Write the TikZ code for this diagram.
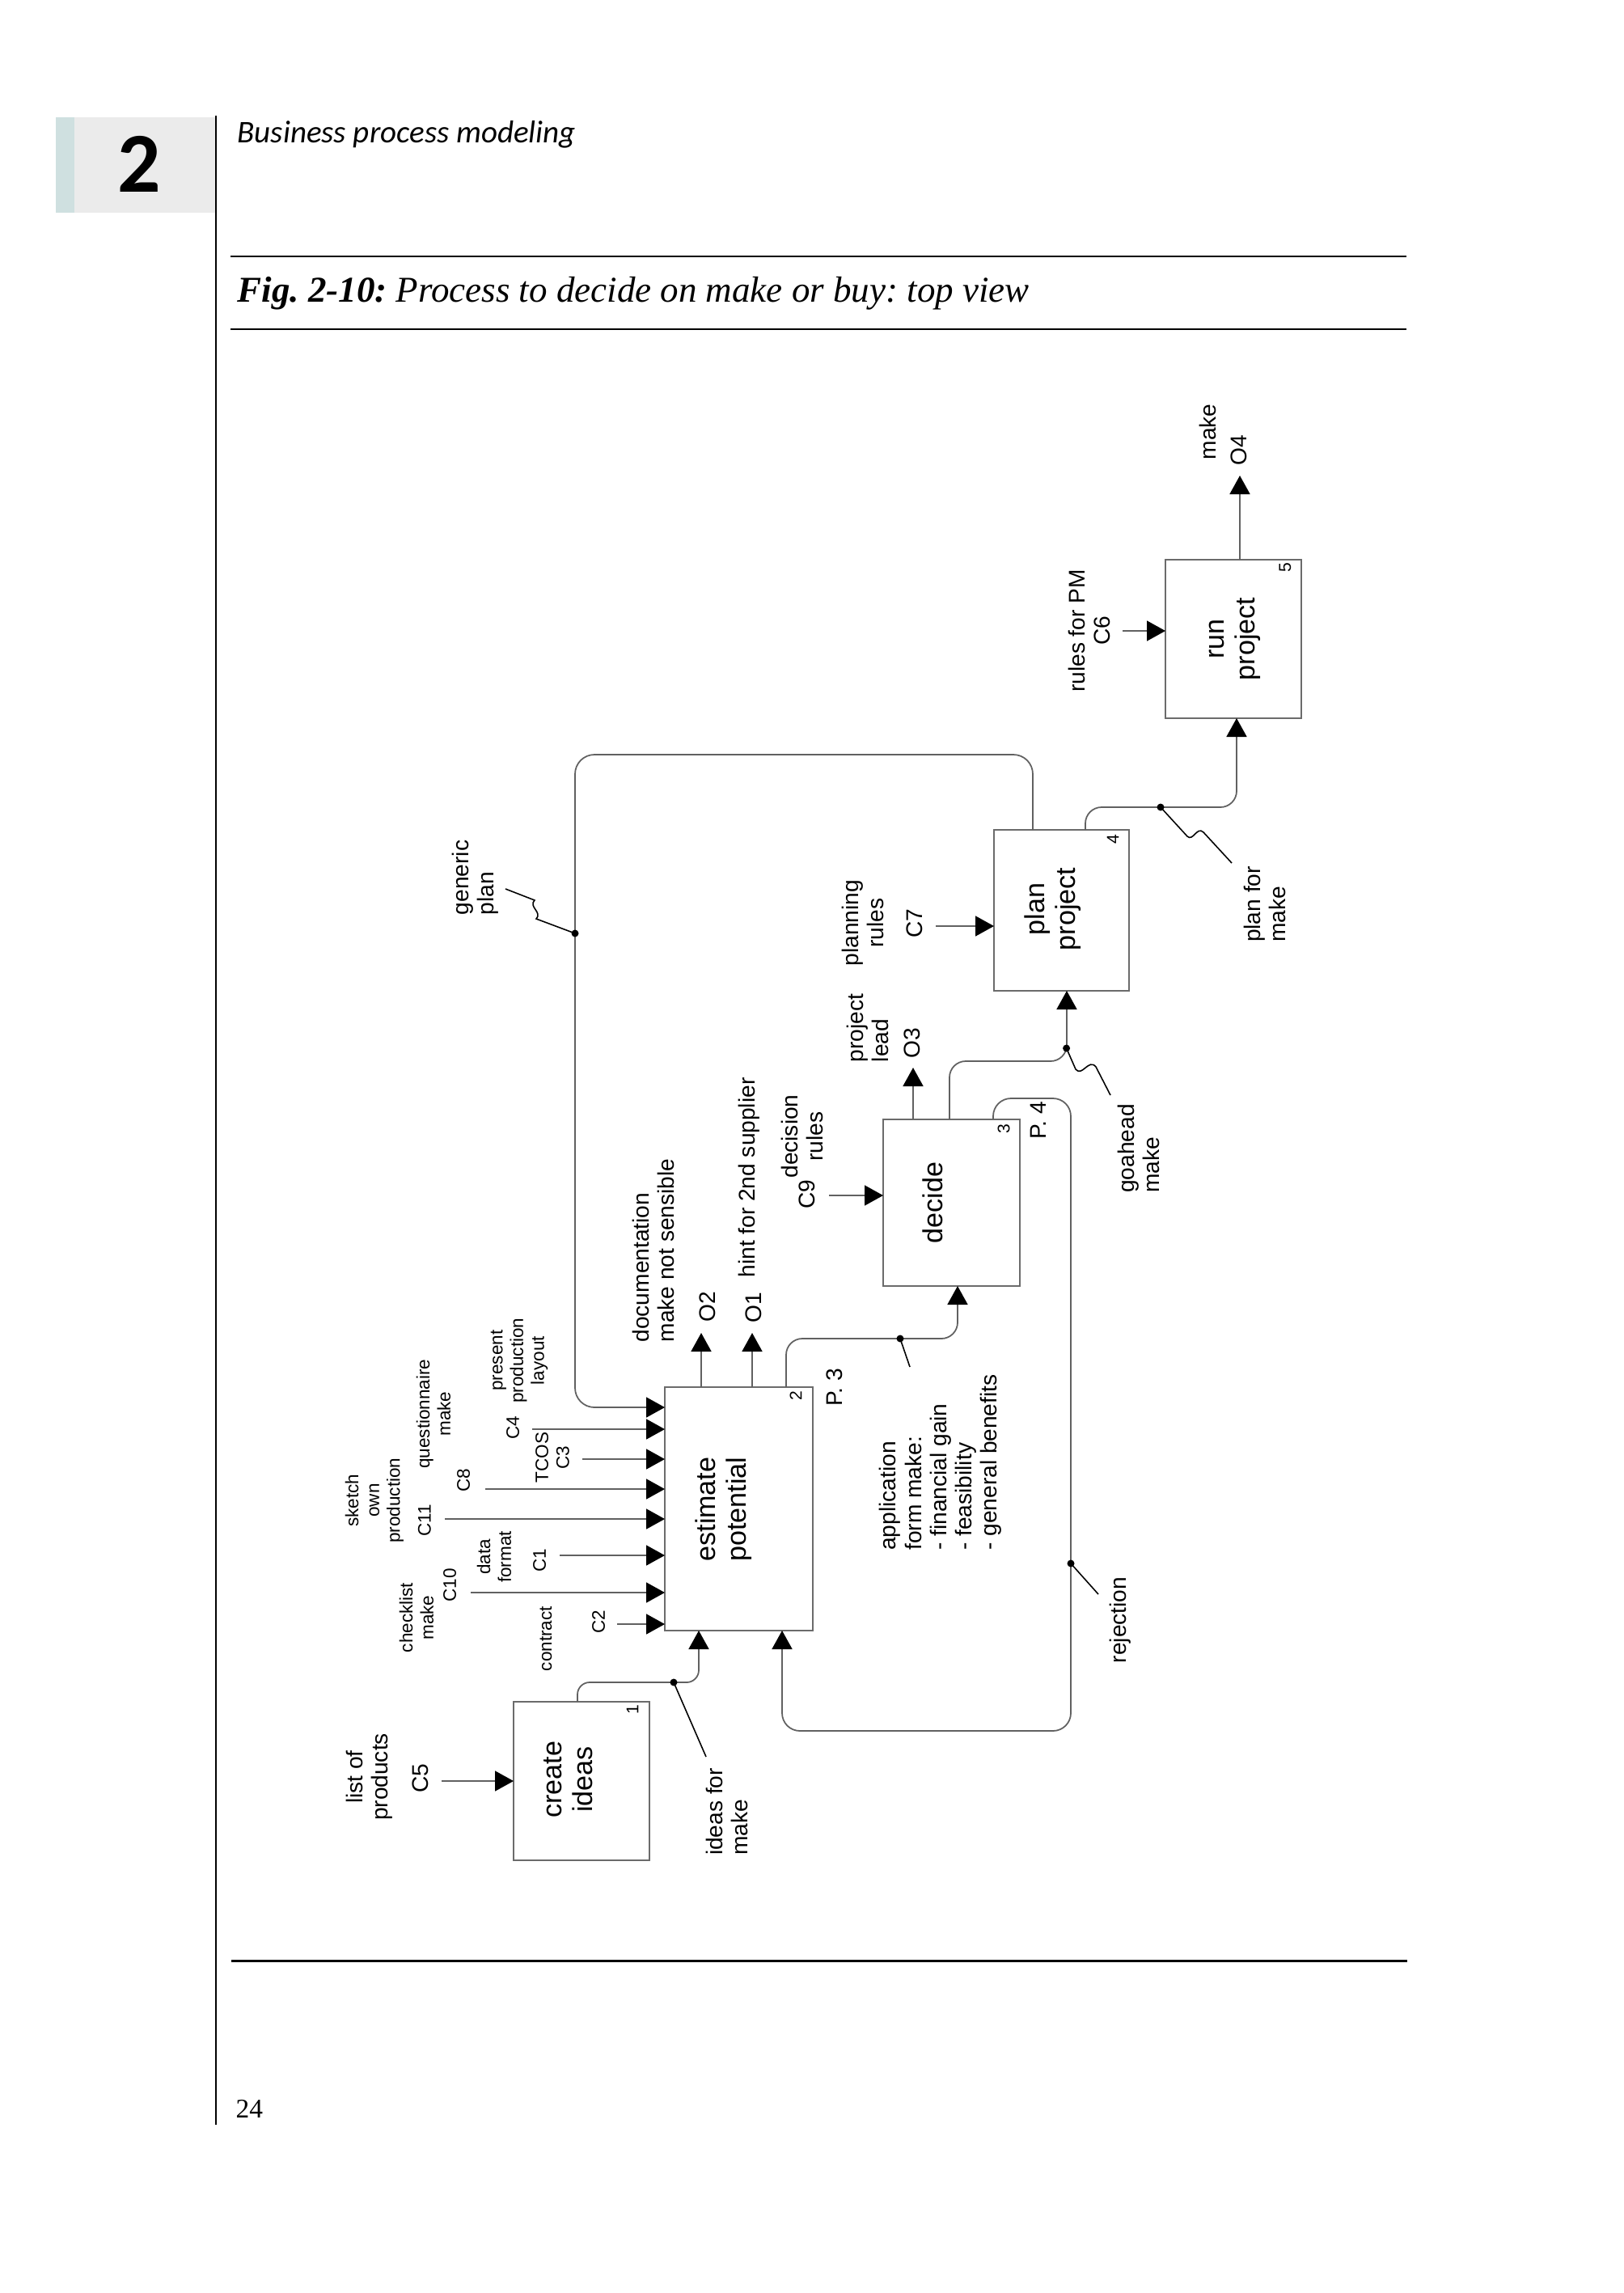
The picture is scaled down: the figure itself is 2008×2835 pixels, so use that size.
\documentclass[tikz,border=0pt]{standalone}
\usepackage{fontspec}
\setmainfont{Liberation Sans}
\newfontfamily\hdrfont{Carlito}
\newfontfamily\serff{Liberation Serif}
\usetikzlibrary{arrows.meta,calc}
\definecolor{boxgray}{gray}{0.42}
\definecolor{linegray}{gray}{0.38}
\definecolor{tabgray}{HTML}{EBEBEB}
\definecolor{tabteal}{HTML}{CFE0E0}
\frenchspacing
\begin{document}
\begin{tikzpicture}[x=0.1mm,y=-0.1mm,
  proc/.style={draw=boxgray, line width=0.5pt, inner sep=0pt, outer sep=0pt, rectangle},
  btxt/.style={rotate=90, font=\fontsize{9.7}{10.8}\selectfont, align=center, inner sep=0pt},
  lab/.style={rotate=90, font=\fontsize{8}{8.9}\selectfont, align=center, inner sep=0pt},
  slab/.style={rotate=90, font=\fontsize{6.4}{7.3}\selectfont, align=center, inner sep=0pt},
  bnum/.style={rotate=90, font=\fontsize{6}{6}\selectfont, inner sep=0pt},
  conn/.style={draw=linegray, line width=0.5pt, rounded corners=2mm, -{Triangle[length=2.3mm,width=2.5mm,color=black]}},
  leadline/.style={draw=black, line width=0.45pt},
  xrule/.style={line width=0.85pt}
]
\useasboundingbox (0,0) rectangle (2008,2835);

% ---------- page header / footer ----------
\fill[tabgray] (69,145) rectangle (267,263);
\fill[tabteal] (69,145) rectangle (92,263);
\node[inner sep=0pt, font=\hdrfont\bfseries\fontsize{30}{30}\selectfont] (chap) at (172,203) {2};
\draw[line width=0.55pt] (267,143) -- (267,2627);
\node[anchor=base west, inner sep=0pt, font=\hdrfont\itshape\fontsize{11.1}{12}\selectfont] (runhead) at (293,177) {Business process modeling};
\draw[xrule] (285,317) -- (1739,317);
\node[anchor=base west, inner sep=0pt, font=\serff\fontsize{12.8}{14}\selectfont] (caption) at (293,373) {\textbf{\textit{Fig. 2-10:}} \textit{Process to decide on make or buy: top view}};
\draw[xrule] (285,407) -- (1739,407);
\draw[xrule] (286,2424) -- (1740,2424);
\node[anchor=base west, inner sep=0pt, font=\serff\fontsize{9.5}{11}\selectfont] (pagenum) at (291,2618) {24};

% ---------- activity boxes ----------
\node[proc, minimum width=16.8mm, minimum height=19.6mm] (b1) at (719,2202) {};
\node[proc, minimum width=18.3mm, minimum height=30.1mm] (b2) at (913.5,1865.5) {};
\node[proc, minimum width=16.9mm, minimum height=20.6mm] (b3) at (1176.5,1487) {};
\node[proc, minimum width=16.7mm, minimum height=19.9mm] (b4) at (1312.5,1125.5) {};
\node[proc, minimum width=16.8mm, minimum height=19.6mm] (b5) at (1525,790) {};

\node[btxt] (t1) at (703,2200) {create\\ideas};
\node[btxt] (t2) at (895,1866) {estimate\\potential};
\node[btxt] (t3) at (1153,1487) {decide};
\node[btxt] (t4) at (1302,1124) {plan\\project};
\node[btxt] (t5) at (1527,790) {run\\project};

\node[bnum] (n1) at (782,2114) {1};
\node[bnum] (n2) at (984,1726) {2};
\node[bnum] (n3) at (1241,1396) {3};
\node[bnum] (n4) at (1376,1038) {4};
\node[bnum] (n5) at (1589,702) {5};

% ---------- box 1 ----------
\coordinate (c5s) at (546,2202);
\draw[conn] (c5s) -- (c5s -| b1.west);
\node[lab] (l5) at (457,2197) {list of\\products};
\node[lab] (c5) at (520,2199) {C5};

\coordinate (ideasd) at (833,2080);
\draw[conn, rounded corners=1.5mm] ($(b1.north)+(-5,0)$) |- (ideasd) -| ($(b2.south)+(-49.5,0)$);
\fill (ideasd) circle[radius=0.45mm];
\coordinate (ideasl) at (873,2172);
\draw[leadline] (ideasd) -- (ideasl);
\node[lab, align=left] (ideas) at (899,2240) {ideas for\\make};

% ---------- box 2 controls ----------
\coordinate (gptop) at (711,933);
\coordinate (gpd) at (711,1154);
\draw[conn, rounded corners=2.4mm] ($(b4.north)+(-35.5,0)$) |- (gptop) -- (gpd) |- ($(b2.west)+(0,-125.5)$);
\fill (gpd) circle[radius=0.45mm];
\coordinate (gpl) at (625,1099);
\draw[leadline] (gpd) -- (663,1136) .. controls (671,1128) and (653,1121) .. (661,1113) -- (gpl);
\node[lab, align=left] (gp) at (588,1085) {generic\\plan};

\coordinate (c4s) at (658,1767);
\draw[conn] (c4s) -- (c4s -| b2.west);
\coordinate (c3s) at (720,1804);
\draw[conn] (c3s) -- (c3s -| b2.west);
\coordinate (c8s) at (600,1841);
\draw[conn] (c8s) -- (c8s -| b2.west);
\coordinate (c11s) at (550,1878);
\draw[conn] (c11s) -- (c11s -| b2.west);
\coordinate (c1s) at (692,1923);
\draw[conn] (c1s) -- (c1s -| b2.west);
\coordinate (c10s) at (582,1969);
\draw[conn] (c10s) -- (c10s -| b2.west);
\coordinate (c2s) at (763,2008);
\draw[conn] (c2s) -- (c2s -| b2.west);

\node[slab] (lchk) at (515,2000) {checklist\\make};
\node[slab] (c10) at (556,1960) {C10};
\node[slab] (lsk) at (463,1855) {sketch\\own\\production};
\node[slab] (c11) at (525,1880) {C11};
\node[slab] (lq) at (536,1748) {questionnaire\\make};
\node[slab] (c8) at (573,1830) {C8};
\node[slab] (ldf) at (611,1925) {data\\format};
\node[slab] (c1) at (667,1929) {C1};
\node[slab] (lct) at (675,2026) {contract};
\node[slab] (c2) at (740,2005) {C2};
\node[slab] (lpp) at (642,1682) {present\\production\\layout};
\node[slab] (c4) at (634,1765) {C4};
\node[slab] (c3) at (683,1802) {TCOS\\C3};

% ---------- box 2 outputs ----------
\coordinate (o2e) at (867,1648);
\draw[conn] (o2e |- b2.north) -- (o2e);
\coordinate (o1e) at (930,1648);
\draw[conn] (o1e |- b2.north) -- (o1e);
\node[lab] (o2) at (875,1616) {O2};
\node[lab] (o1) at (932,1617) {O1};
\node[lab, align=left] (ldoc) at (808,1546) {documentation\\make not sensible};
\node[lab] (lhint) at (926,1456) {hint for 2nd supplier};
\node[lab] (p3) at (1032,1715) {P. 3};

\coordinate (appd) at (1113,1655);
\draw[conn] ($(b2.north)+(58.5,0)$) |- (appd) -| ($(b3.south)+(7.5,0)$);
\fill (appd) circle[radius=0.45mm];
\coordinate (appl) at (1125,1690);
\draw[leadline] (appd) -- (appl);
\node[lab, align=left] (lapp) at (1163,1808) {application\\form make:\\- financial gain\\- feasibility\\- general benefits};

% ---------- box 3 ----------
\coordinate (c9s) at (1025,1478);
\draw[conn] (c9s) -- (c9s -| b3.west);
\node[lab] (c9) at (998,1477) {C9};
\node[lab] (ldec) at (992,1405) {decision\\rules};

\coordinate (o3e) at (1129,1320);
\draw[conn] (o3e |- b3.north) -- (o3e);
\node[lab] (o3) at (1128,1290) {O3};
\node[lab, align=left] (lpl) at (1073,1271) {project\\lead};
\node[lab] (p4) at (1284,1385) {P. 4};

\draw[conn] ($(b3.north)+(-2.5,0)$) |- ($(b4.south)+(6.5,87)$) -- ($(b4.south)+(6.5,0)$);
\coordinate (god) at (1318.6,1296);
\fill (god) circle[radius=0.45mm];
\coordinate (gol) at (1373,1354);
\draw[leadline] (god) -- (1330,1322) .. controls (1338,1332) and (1346,1308) .. (1355,1319) -- (gol);
\node[lab, align=left] (lgo) at (1408,1420) {goahead\\make};

\coordinate (rjtop) at (1324,1358);
\coordinate (rjd) at (1324,1933);
\coordinate (rjbot) at (1324,2140);
\draw[conn, rounded corners=2.2mm] ($(b3.north)+(51.5,0)$) |- (rjtop) -- (rjd) -- (rjbot) -| ($(b2.south)+(53.5,0)$);
\fill (rjd) circle[radius=0.45mm];
\coordinate (rjl) at (1358,1971);
\draw[leadline] (rjd) -- (rjl);
\node[lab] (lrj) at (1385,2003) {rejection};

% ---------- box 4 ----------
\coordinate (c7s) at (1157,1145);
\draw[conn] (c7s) -- (c7s -| b4.west);
\node[lab] (c7) at (1131,1142) {C7};
\node[lab] (lplan) at (1067,1141) {planning\\rules};

\coordinate (pfd) at (1435,998);
\draw[conn] ($(b4.north)+(29.5,0)$) |- (pfd) -| ($(b5.south)+(4,0)$);
\fill (pfd) circle[radius=0.45mm];
\coordinate (pfl) at (1523,1067);
\draw[leadline] (pfd) -- (1468,1034) .. controls (1475,1041) and (1480,1021) .. (1488,1029) -- (pfl);
\node[lab, align=left] (lpf) at (1564,1118) {plan for\\make};

% ---------- box 5 ----------
\coordinate (c6s) at (1388,780);
\draw[conn] (c6s) -- (c6s -| b5.west);
\node[lab] (c6) at (1347,780) {rules for PM\\C6};

\coordinate (o4e) at (1533,588);
\draw[conn] (o4e |- b5.north) -- (o4e);
\node[lab] (o4) at (1532,557) {O4};
\node[lab] (lmk) at (1493,534) {make};
\end{tikzpicture}
\end{document}
